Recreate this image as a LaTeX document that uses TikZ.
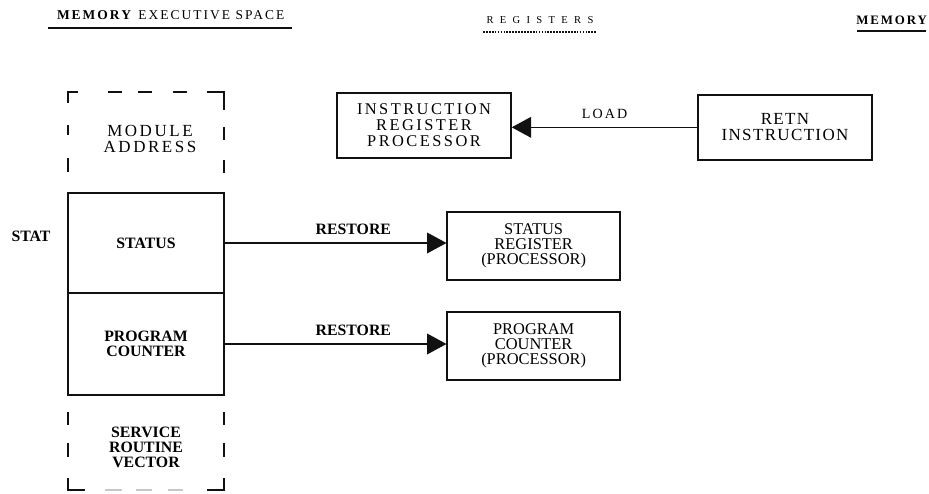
\documentclass[tikz,border=0pt]{standalone}
\usepackage{fontspec}
\setmainfont{Liberation Serif}
\newfontfamily\spfont[LetterSpace=15]{Liberation Serif}
\newfontfamily\lsfont[LetterSpace=8]{Liberation Serif}
\newfontfamily\regfont[LetterSpace=60]{Liberation Serif}
\usepackage{xcolor}
\usepackage{tikz}
\usetikzlibrary{arrows.meta}
\definecolor{DocInk}{HTML}{111111}
\definecolor{DocFaint}{HTML}{C8C8C8}

\begin{document}
\begin{tikzpicture}[x=1cm,y=1cm,
  regbox/.style={draw=DocInk,line width=1.2pt,inner sep=0pt,align=center},
  dashseg/.style={draw=DocInk,line width=1.2pt},
  flow/.style={draw=DocInk,line width=1pt,-{Triangle[length=0.58cm,width=0.62cm]}},
  boldlbl/.style={font=\bfseries\fontsize{13.5}{12.8}\selectfont,align=center}]
\path[use as bounding box] (0,0) rectangle (27.87,14.82);
% headings
\node[font=\spfont\fontsize{11.5}{12}\selectfont] (mes) at (5.12,14.37) {\textbf{MEMORY} EXECUTIVE SPACE};
\draw[DocInk,line width=1.2pt] (1.44,13.98) -- (8.76,13.98);
\node[font=\regfont\fontsize{9}{9}\selectfont] (regs) at (16.20,14.22) {REGISTERS};
\draw[DocInk,line width=1pt,dash pattern=on 1.5pt off 1pt] (14.49,13.86) -- (17.91,13.86);
\node[font=\spfont\bfseries\fontsize{11}{11}\selectfont] (mem) at (26.75,14.22) {MEMORY};
\draw[DocInk,line width=1.2pt] (25.71,13.89) -- (27.78,13.89);
% memory executive space column, dashed top part
\draw[dashseg] (2.34,12.06) -- (2.04,12.06) -- (2.04,11.73);
\draw[dashseg] (2.04,11.07) -- (2.04,10.77);
\draw[dashseg] (2.04,10.08) -- (2.04,9.66);
\draw[dashseg] (3.24,12.06) -- (3.66,12.06);
\draw[dashseg] (4.14,12.06) -- (4.56,12.06);
\draw[dashseg] (5.19,12.06) -- (5.61,12.06);
\draw[dashseg] (6.21,12.06) -- (6.72,12.06) -- (6.72,11.52);
\draw[dashseg] (6.72,11.01) -- (6.72,10.62);
\draw[dashseg] (6.72,10.02) -- (6.72,9.63);
\node[font=\spfont\fontsize{14.5}{13.6}\selectfont,align=center] (modaddr) at (4.50,10.65) {MODULE\\ADDRESS};
\node[regbox,minimum width=4.68cm,minimum height=3.00cm,boldlbl] (status) at (4.38,7.53) {STATUS};
\node[regbox,minimum width=4.68cm,minimum height=3.06cm,boldlbl] (pc) at (4.38,4.50) {PROGRAM\\COUNTER};
% dashed bottom part
\draw[dashseg] (2.04,2.46) -- (2.04,2.07);
\draw[dashseg] (2.04,1.53) -- (2.04,1.11);
\draw[dashseg] (2.04,0.48) -- (2.04,0.12) -- (2.55,0.12);
\draw[DocFaint,line width=1.2pt] (3.15,0.12) -- (3.66,0.12);
\draw[DocFaint,line width=1.2pt] (4.08,0.12) -- (4.56,0.12);
\draw[DocFaint,line width=1.2pt] (5.04,0.12) -- (5.49,0.12);
\draw[dashseg] (6.21,0.12) -- (6.72,0.12) -- (6.72,0.48);
\draw[dashseg] (6.72,2.46) -- (6.72,2.07);
\draw[dashseg] (6.72,1.53) -- (6.72,1.11);
\node[boldlbl] (vector) at (4.38,1.41) {SERVICE\\ROUTINE\\VECTOR};
\node[boldlbl] (stat) at (0.93,7.74) {STAT};
% processor side
\node[regbox,minimum width=5.22cm,minimum height=1.95cm,font=\spfont\fontsize{14}{13.6}\selectfont] (ireg) at (12.72,11.06) {INSTRUCTION\\REGISTER\\PROCESSOR};
\node[regbox,minimum width=5.19cm,minimum height=2.04cm,font=\fontsize{14}{12.8}\selectfont] (sreg) at (16.01,7.44) {STATUS\\REGISTER\\(PROCESSOR)};
\node[regbox,minimum width=5.19cm,minimum height=2.04cm,font=\fontsize{14}{12.8}\selectfont] (preg) at (16.01,4.44) {PROGRAM\\COUNTER\\(PROCESSOR)};
\node[regbox,minimum width=5.22cm,minimum height=1.95cm,font=\lsfont\fontsize{14.5}{13.6}\selectfont] (retn) at (23.55,11.00) {RETN\\INSTRUCTION};
% transfers
\draw[flow] (retn.west) -- node[above=4pt,font=\spfont\fontsize{12}{12}\selectfont] (load) {LOAD} (retn.west -| ireg.east);
\draw[flow] (status.east) -- node[boldlbl,above=3pt,pos=.58] (rst1) {RESTORE} (status.east -| sreg.west);
\draw[flow] (pc.east) -- node[boldlbl,above=3pt,pos=.58] (rst2) {RESTORE} (pc.east -| preg.west);
\end{tikzpicture}
\end{document}
